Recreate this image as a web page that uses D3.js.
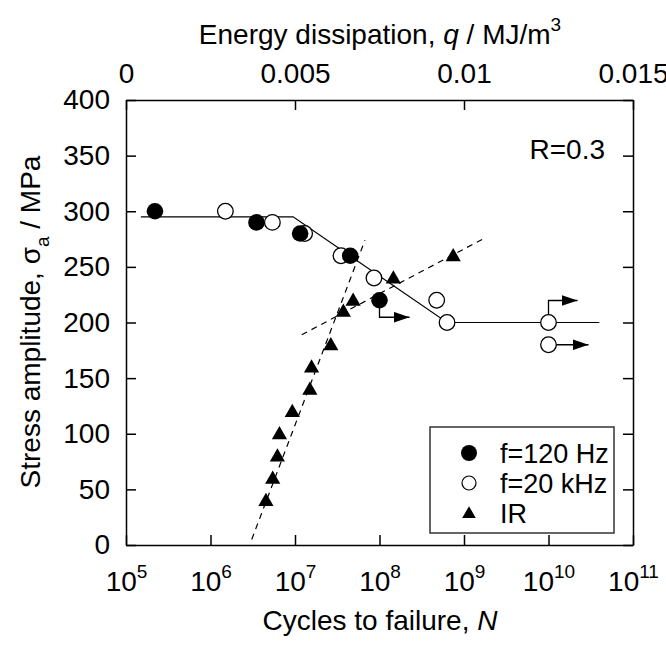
<!DOCTYPE html>
<html>
<head>
<meta charset="utf-8">
<script src="https://cdn.jsdelivr.net/npm/d3@7"></script>
<style>
  body { margin: 0; background: #fff; }
  svg text { font-family: "Liberation Sans", Arial, sans-serif; fill: #000; }
</style>
</head>
<body>
<div class="chart"></div>
<script>
var width = 666,
    height = 645;

// f=120 Hz (filled circles)
var hzN = [2.2e5, 3.5e6, 1.15e7, 4.5e7, 1.0e8];
var hzS = [300, 290, 280, 260, 220];
// f=20 kHz (open circles)
var khzN = [1.5e6, 5.4e6, 1.3e7, 3.5e7, 8.6e7, 4.75e8, 6.3e8, 1e10, 1e10];
var khzS = [300, 290, 280, 260, 240, 220, 200, 200, 180];
// IR, plotted against energy dissipation q (top axis)
var irQ = [0.00414, 0.00434, 0.00448, 0.00454, 0.00492, 0.00544, 0.00549, 0.00606, 0.00643, 0.00672, 0.00791, 0.00968];
var irS = [40, 60, 80, 100, 120, 140, 160, 180, 210, 220, 240, 260];
// S-N curve (solid)
var snN = [1.5e5, 9.5e6, 6.3e8, 4e10];
var snS = [295, 295, 200, 200];
// IR trend lines (dashed)
var steepQ = [0.00372, 0.00707], steepS = [5, 274];
var flatQ = [0.0052, 0.01062], flatS = [189, 276];
// run-outs: N, s, arrow kind
var runN = [1e8, 1e10, 1e10];
var runS = [220, 200, 180];
var runKind = ["down", "up", "right"];

var xTicks = [1e5, 1e6, 1e7, 1e8, 1e9, 1e10, 1e11];
var qTicks = [0, 0.005, 0.01, 0.015];
var yTicks = [0, 50, 100, 150, 200, 250, 300, 350, 400];

var mLeft = 126, mRight = 633, mTop = 100, mBottom = 545;

var svg = d3.select(".chart").append("svg")
    .attr("width", width)
    .attr("height", height);

var defs = svg.append("defs");
defs.append("marker")
    .attr("id", "arrow")
    .attr("viewBox", "0 0 16 11")
    .attr("refX", 16).attr("refY", 5.5)
    .attr("markerUnits", "userSpaceOnUse")
    .attr("markerWidth", 16).attr("markerHeight", 11)
    .attr("orient", "auto")
  .append("path")
    .attr("d", "M0,0L16,5.5L0,11Z")
    .attr("fill", "#000");

var x = d3.scaleLog().domain([1e5, 1e11]).range([mLeft, mRight]);
var xq = d3.scaleLinear().domain([0, 0.015]).range([mLeft, mRight]);
var y = d3.scaleLinear().domain([0, 400]).range([mBottom, mTop]);

// axes
var fs = "28px", sup = "19px";
var gx = svg.append("g")
    .attr("transform", "translate(0," + mBottom + ")")
    .call(d3.axisBottom(x).tickValues(xTicks).tickSizeInner(-10).tickSizeOuter(0).tickPadding(26).tickFormat(""));
gx.selectAll(".tick text").each(function(d) {
    var t = d3.select(this).attr("font-size", fs);
    t.append("tspan").text("10");
    t.append("tspan").attr("dy", -13).attr("font-size", sup).text(Math.round(Math.log10(d)));
});

var gt = svg.append("g")
    .attr("transform", "translate(0," + mTop + ")")
    .call(d3.axisTop(xq).tickValues(qTicks).tickSizeInner(-10).tickSizeOuter(0).tickPadding(17)
      .tickFormat(function(d) { return d === 0 ? "0" : String(+d.toFixed(3)); }));
gt.selectAll(".tick text").attr("font-size", fs);

var gy = svg.append("g")
    .attr("transform", "translate(" + mLeft + ",0)")
    .call(d3.axisLeft(y).tickValues(yTicks).tickSizeInner(-10).tickSizeOuter(0).tickPadding(16));
gy.selectAll(".tick text").attr("font-size", fs);

svg.append("g")
    .attr("transform", "translate(" + mRight + ",0)")
    .call(d3.axisRight(y).tickValues(yTicks).tickSizeInner(-10).tickSizeOuter(0).tickFormat(""));

svg.selectAll(".domain, .tick line").attr("stroke", "#000").attr("stroke-width", 1.5);

// axis titles
var xl = svg.append("text")
    .attr("x", 380).attr("y", 630)
    .attr("text-anchor", "middle").attr("font-size", fs);
xl.append("tspan").text("Cycles to failure, ");
xl.append("tspan").attr("font-style", "italic").text("N");

var tt = svg.append("text")
    .attr("x", 380).attr("y", 44)
    .attr("text-anchor", "middle").attr("font-size", fs);
tt.append("tspan").text("Energy dissipation, ");
tt.append("tspan").attr("font-style", "italic").text("q");
tt.append("tspan").text(" / MJ/m");
tt.append("tspan").attr("dy", -13).attr("font-size", sup).text("3");

var yl = svg.append("text")
    .attr("transform", "translate(40,322) rotate(-90)")
    .attr("text-anchor", "middle").attr("font-size", fs);
yl.append("tspan").text("Stress amplitude, σ");
yl.append("tspan").attr("dy", 9).attr("font-size", sup).text("a");
yl.append("tspan").attr("dy", -9).text(" / MPa");

svg.append("text")
    .attr("x", 605).attr("y", 159)
    .attr("text-anchor", "end").attr("font-size", fs)
    .text("R=0.3");

// lines
var line = d3.line();
svg.append("path")
    .attr("d", line(snN.map(function(n, i) { return [x(n), y(snS[i])]; })))
    .attr("fill", "none").attr("stroke", "#000").attr("stroke-width", 1.2);

[[steepQ, steepS], [flatQ, flatS]].forEach(function(p) {
    svg.append("path")
        .attr("d", line(p[0].map(function(q, i) { return [xq(q), y(p[1][i])]; })))
        .attr("fill", "none").attr("stroke", "#000").attr("stroke-width", 1.2)
        .attr("stroke-dasharray", "6,5");
});

// run-out arrows
runN.forEach(function(n, i) {
    var px = x(n), py = y(runS[i]), d;
    if (runKind[i] === "down") d = "M" + px + "," + py + "V" + (py + 17) + "H" + (px + 30);
    else if (runKind[i] === "up") d = "M" + px + "," + py + "V" + (py - 22) + "H" + (px + 29);
    else d = "M" + px + "," + py + "H" + (px + 40);
    svg.append("path").attr("d", d)
        .attr("fill", "none").attr("stroke", "#000").attr("stroke-width", 1.3)
        .attr("marker-end", "url(#arrow)");
});

// markers
var tri = d3.symbol().type(d3.symbolTriangle).size(100);
svg.append("g").selectAll("path")
    .data(irQ)
    .enter().append("path")
    .attr("d", tri)
    .attr("transform", function(d, i) { return "translate(" + xq(d) + "," + (y(irS[i]) + 1) + ")"; })
    .attr("fill", "#000");

svg.append("g").selectAll("circle")
    .data(khzN)
    .enter().append("circle")
    .attr("cx", function(d) { return x(d); })
    .attr("cy", function(d, i) { return y(khzS[i]); })
    .attr("r", 7.8)
    .attr("fill", "#fff").attr("stroke", "#000").attr("stroke-width", 1.3);

svg.append("g").selectAll("circle")
    .data(hzN)
    .enter().append("circle")
    .attr("cx", function(d) { return x(d); })
    .attr("cy", function(d, i) { return y(hzS[i]); })
    .attr("r", 8.3)
    .attr("fill", "#000");

// legend
var lg = svg.append("g");
lg.append("rect")
    .attr("x", 430).attr("y", 427).attr("width", 184).attr("height", 106)
    .attr("fill", "#fff").attr("stroke", "#333").attr("stroke-width", 1.5);
var labels = ["f=120 Hz", "f=20 kHz", "IR"];
labels.forEach(function(l, i) {
    var cy = 453 + i * 30;
    if (i === 0) lg.append("circle").attr("cx", 469).attr("cy", cy).attr("r", 8).attr("fill", "#000");
    if (i === 1) lg.append("circle").attr("cx", 469).attr("cy", cy).attr("r", 7).attr("fill", "#fff").attr("stroke", "#000").attr("stroke-width", 1.2);
    if (i === 2) lg.append("path").attr("d", d3.symbol().type(d3.symbolTriangle).size(80)).attr("transform", "translate(469," + (cy + 1) + ")").attr("fill", "#000");
    lg.append("text").attr("x", 500).attr("y", cy + 10).attr("font-size", "27px").text(l);
});
</script>
</body>
</html>
